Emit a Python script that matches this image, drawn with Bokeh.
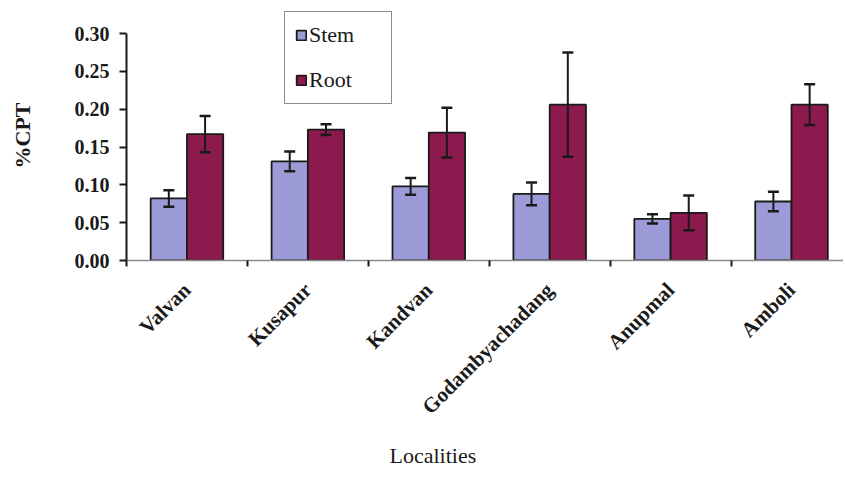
import numpy as np
from bokeh.plotting import figure
from bokeh.models import (ColumnDataSource, FixedTicker, Whisker, TeeHead, Legend,
                          LegendItem, NumeralTickFormatter, Range1d, Title)
from bokeh.embed import file_html
from bokeh.resources import INLINE

categories = ["Valvan", "Kusapur", "Kandvan", "Godambyachadang", "Anupmal", "Amboli"]
stem = [0.082, 0.131, 0.098, 0.088, 0.055, 0.078]
stem_err = [0.011, 0.013, 0.011, 0.015, 0.006, 0.013]
root = [0.167, 0.173, 0.169, 0.206, 0.063, 0.206]
root_err = [0.024, 0.007, 0.033, 0.069, 0.023, 0.027]
y_ticks = [0.0, 0.05, 0.10, 0.15, 0.20, 0.25, 0.30]

STEM_COLOR = "#9d9bd7"
ROOT_COLOR = "#8c1a4e"
SERIF = "Liberation Serif"
INK = "#1a1a1a"

idx = np.arange(len(categories))
centers = idx + 0.5
bw = 0.3

stem_src = ColumnDataSource(dict(x=centers - bw / 2, top=stem,
                                 lo=np.array(stem) - np.array(stem_err),
                                 hi=np.array(stem) + np.array(stem_err)))
root_src = ColumnDataSource(dict(x=centers + bw / 2, top=root,
                                 lo=np.array(root) - np.array(root_err),
                                 hi=np.array(root) + np.array(root_err)))

# y range extends a little above 0.30 so the legend (which sits above the
# last tick, as in the reference) is not clipped by the frame
p = figure(width=843, height=478, output_backend="svg", toolbar_location=None,
           x_range=Range1d(0, 5.93), y_range=Range1d(0, 0.3304),
           min_border_left=126, min_border_right=0, min_border_top=10,
           min_border_bottom=218)
p.outline_line_color = None
p.grid.grid_line_color = None
p.background_fill_color = "white"

r_stem = p.vbar(x="x", top="top", bottom=0, width=bw, source=stem_src,
                fill_color=STEM_COLOR, line_color=INK, line_width=1.8)
r_root = p.vbar(x="x", top="top", bottom=0, width=bw, source=root_src,
                fill_color=ROOT_COLOR, line_color=INK, line_width=1.8)

for src in (stem_src, root_src):
    w = Whisker(source=src, base="x", lower="lo", upper="hi",
                line_color=INK, line_width=2, level="overlay",
                upper_head=TeeHead(size=11, line_width=2.5, line_color=INK),
                lower_head=TeeHead(size=11, line_width=2.5, line_color=INK))
    p.add_layout(w)

# y axis
ya = p.yaxis[0]
ya.bounds = (0, 0.30)
ya.ticker = FixedTicker(ticks=y_ticks, minor_ticks=[])
ya.formatter = NumeralTickFormatter(format="0.00")
ya.axis_line_color = INK
ya.axis_line_width = 2
ya.major_tick_line_color = INK
ya.major_tick_line_width = 2
ya.major_tick_out = 7
ya.major_tick_in = 0
ya.minor_tick_line_color = None
ya.major_label_text_font = SERIF
ya.major_label_text_font_style = "bold"
ya.major_label_text_font_size = "20px"
ya.major_label_text_color = INK
ya.major_label_standoff = 10
ya.axis_label = "%CPT"
ya.axis_label_text_font = SERIF
ya.axis_label_text_font_style = "bold"
ya.axis_label_text_font_size = "22px"
ya.axis_label_text_color = INK
ya.axis_label_standoff = 37

# x axis
xa = p.xaxis[0]
xa.ticker = FixedTicker(ticks=list(centers), minor_ticks=list(np.arange(len(categories) + 1)))
xa.major_label_overrides = {float(c): name for c, name in zip(centers, categories)}
xa.major_tick_line_color = None
xa.minor_tick_line_color = INK
xa.minor_tick_line_width = 2
xa.minor_tick_out = 6
xa.minor_tick_in = 0
xa.axis_line_color = "#8a8a8a"
xa.axis_line_width = 1.5
xa.major_label_orientation = np.pi / 4
xa.major_label_text_font = SERIF
xa.major_label_text_font_style = "bold"
xa.major_label_text_font_size = "21px"
xa.major_label_text_color = INK
xa.major_label_standoff = 20

p.add_layout(Title(text="Localities", align="left", offset=263,
                   text_font=SERIF, text_font_style="normal",
                   text_font_size="22px", text_color=INK, standoff=20), "below")

legend = Legend(items=[LegendItem(label="Stem", renderers=[r_stem]),
                       LegendItem(label="Root", renderers=[r_root])],
                location=(158, 156))
legend.border_line_color = INK
legend.border_line_width = 1.5
legend.background_fill_color = "white"
legend.background_fill_alpha = 1
legend.label_text_font = SERIF
legend.label_text_font_size = "22px"
legend.label_text_color = INK
legend.glyph_width = 12
legend.glyph_height = 12
legend.label_height = 26
legend.label_width = 72
legend.label_standoff = 2
legend.spacing = 19
legend.padding = 10
legend.margin = 0
p.add_layout(legend, "center")

open("out.html", "w").write(file_html(p, INLINE))
